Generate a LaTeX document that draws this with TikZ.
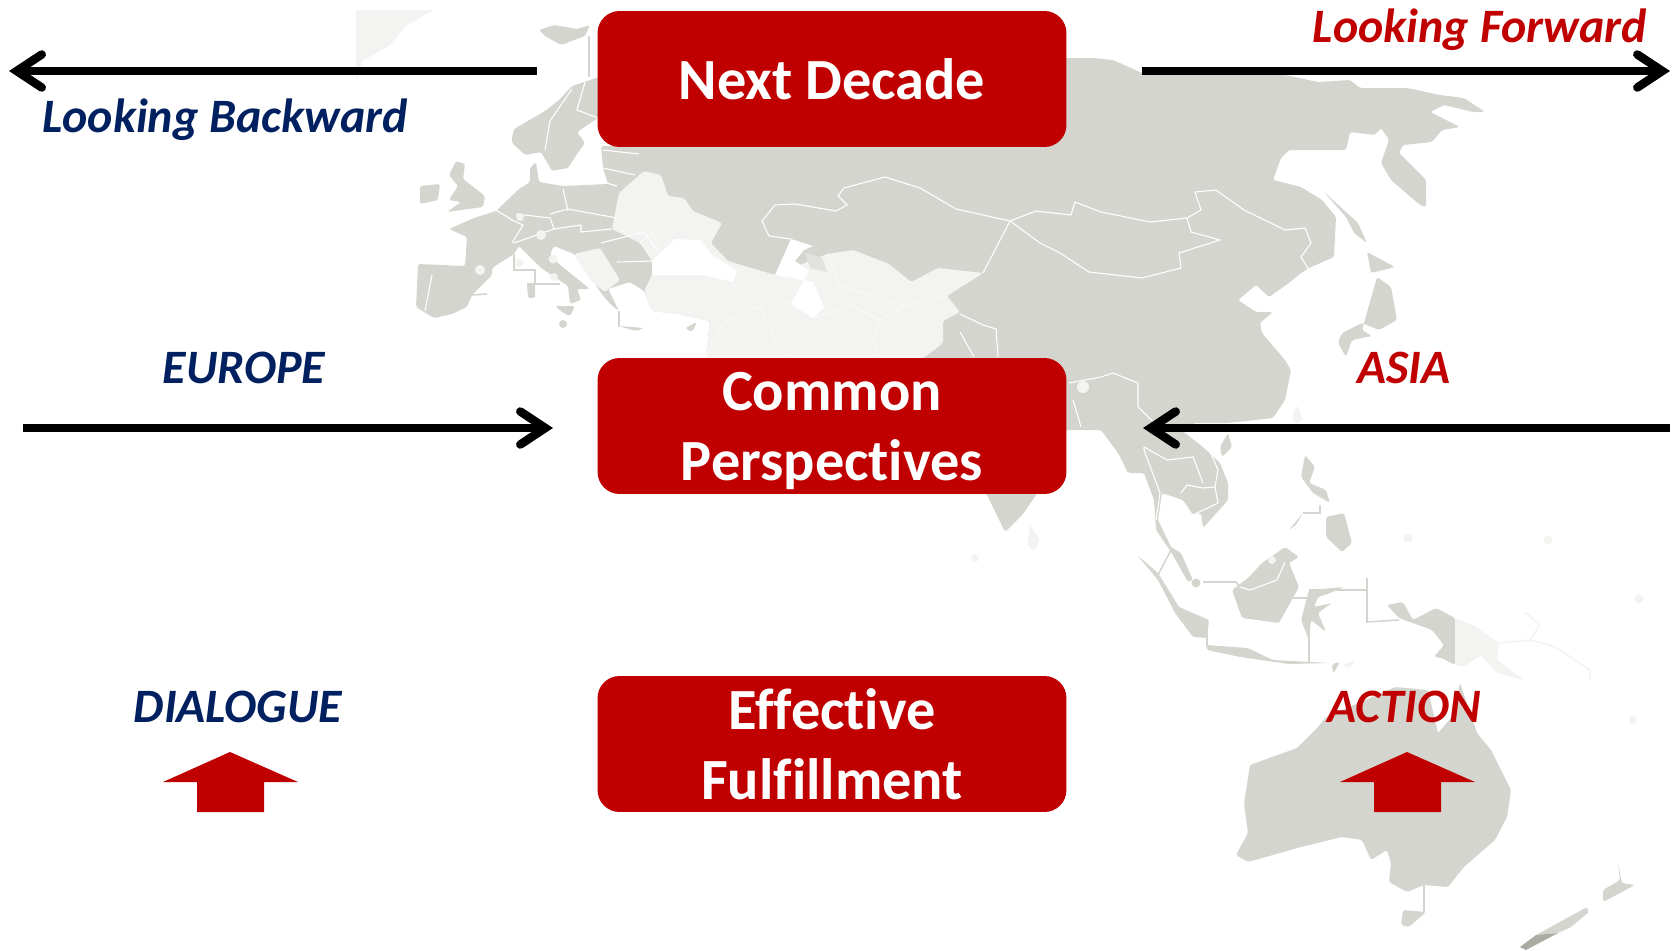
\documentclass[tikz,border=0pt]{standalone}
\usepackage{fontspec}
\setmainfont[Ligatures=NoCommon]{Carlito}
\usetikzlibrary{arrows.meta}
\definecolor{boxred}{HTML}{C00000}
\definecolor{navy}{HTML}{002060}
\definecolor{landgray}{HTML}{D5D5D0}
\definecolor{palegray}{HTML}{F3F3F1}
\definecolor{darkland}{HTML}{ABABA3}
\tikzset{
  land/.style={fill=landgray, rounded corners=1pt},
  pale/.style={fill=palegray, rounded corners=1pt},
  border/.style={draw=white, line width=0.6pt},
  paleborder/.style={draw=white!50!palegray, line width=0.6pt},
  sealine/.style={draw=landgray, line width=0.9pt},
  paleline/.style={draw=palegray, line width=0.9pt},
  titlebox/.style={fill=boxred, rounded corners=0.44cm, minimum width=9.38cm, minimum height=2.72cm,
    inner sep=0pt, text=white, align=center, text depth=0pt, font=\bfseries\fontsize{33.2}{39.8}\selectfont},
  label/.style={font=\bfseries\itshape\fontsize{27.3}{33}\selectfont},
  timearrow/.style={line width=0.17cm, -{Straight Barb[length=0.5cm, width=0.66cm, line width=0.17cm, line cap=round]}},
}
\begin{document}
\begin{tikzpicture}[x=0.02cm, y=-0.02cm]
  \useasboundingbox (0,0) rectangle (1680,950);

  % map
  \fill[pale] (356,10) -- (434,10) -- (407,25) -- (389,46) -- (362,61) -- (356,82) -- cycle;
  \fill[land] (539,30) -- (554,25) -- (577,29) -- (590,25) -- (585,36) -- (561,45) -- (545,36) -- cycle;
  % Eurasia
  \fill[land] (639,146) -- (620,100) -- (1067,58) -- (1093,58) -- (1113,60) -- (1142,73) -- (1285,75)
    -- (1318,82) -- (1350,80) -- (1360,88) -- (1407,88) -- (1440,95) -- (1464,98) -- (1485,112)
    -- (1473,112) -- (1444,105) -- (1430,112) -- (1460,127) -- (1442,130) -- (1432,142) -- (1403,145)
    -- (1399,153) -- (1426,180) -- (1426,207) -- (1420,205) -- (1391,180) -- (1381,163) -- (1389,140)
    -- (1381,128) -- (1375,135) -- (1350,132) -- (1346,150) -- (1289,150) -- (1281,158) -- (1273,180)
    -- (1301,187) -- (1322,200) -- (1336,217) -- (1334,257) -- (1309,268) -- (1301,273) -- (1289,283)
    -- (1269,297) -- (1256,285) -- (1238,300) -- (1256,312) -- (1273,312) -- (1260,323) -- (1262,333)
    -- (1285,360) -- (1291,370) -- (1285,400) -- (1273,418) -- (1228,423) -- (1195,423) -- (1181,430)
    -- (1203,447) -- (1220,463) -- (1228,483) -- (1228,500) -- (1203,528) -- (1201,513) -- (1193,515)
    -- (1183,500) -- (1162,493) -- (1158,520) -- (1171,547) -- (1181,553) -- (1193,580) -- (1188,582)
    -- (1171,552) -- (1156,530) -- (1154,500) -- (1144,473) -- (1128,473) -- (1118,453) -- (1101,430)
    -- (1066,430) -- (1036,495) -- (1023,514) -- (1005,532) -- (987,495) -- (925,420) -- (925,357)
    -- (706,357) -- (710,321) -- (679,314) -- (652,311) -- (644,291) -- (630,282) -- (608,289)
    -- (619,311) -- (610,304) -- (601,293) -- (594,282) -- (574,254) -- (554,246) -- (550,254)
    -- (559,264) -- (590,289) -- (577,289) -- (581,300) -- (570,304) -- (568,286) -- (541,268)
    -- (519,246) -- (514,254) -- (492,268) -- (492,275) -- (472,295) -- (467,307) -- (452,314)
    -- (434,318) -- (416,307) -- (418,264) -- (465,266) -- (467,237) -- (449,229) -- (474,218)
    -- (496,211) -- (519,189) -- (530,182) -- (530,168) -- (536,162) -- (539,182) -- (563,186)
    -- (608,184) -- (603,168) -- (601,146) -- cycle;
  % Scandinavia
  \fill[land] (512,137) -- (514,129) -- (545,111) -- (559,100) -- (572,86) -- (620,70) -- (620,118)
    -- (598,118) -- (577,132) -- (585,143) -- (577,154) -- (568,168) -- (552,171) -- (541,152)
    -- (525,155) -- (512,143) -- cycle;
  % British Isles and the Mediterranean islands
  \fill[land] (456,161) -- (465,164) -- (463,179) -- (485,196) -- (483,207) -- (447,212) -- (461,202)
    -- (449,200) -- (458,186) -- (449,175) -- cycle;
  \fill[land] (420,186) -- (440,184) -- (438,200) -- (420,204) -- cycle;
  \fill[land] (527,284) -- (535,284) -- (535,298) -- (528,298) -- cycle;
  \fill[land] (555,306) -- (575,306) -- (570,316) -- (562,312) -- cycle;
  \fill[land] (619,326) -- (644,328) -- (636,331) -- cycle;
  \fill[land] (685,328) -- (697,322) -- (692,332) -- cycle;
  \fill[land] (563,324) circle (4);
  \draw[sealine] (589,36) -- (589,77);
  \draw[sealine] (514,254) -- (514,270) -- (535,270) -- (535,284);
  \draw[sealine] (472,295) -- (487,294);
  \draw[sealine] (527,284) -- (560,284);
  \draw[sealine] (619,311) -- (619,327);
  % Japan, Sakhalin, Taiwan, Hainan, Sri Lanka
  \fill[land] (1367,252) -- (1395,267) -- (1371,273) -- cycle;
  \fill[land] (1377,277) -- (1391,287) -- (1397,320) -- (1379,330) -- (1362,323) -- (1342,333)
    -- (1338,343) -- (1346,357) -- (1352,340) -- (1372,336) -- (1362,330) -- cycle;
  \fill[land] (1324,192) -- (1358,223) -- (1367,243) -- (1354,233) -- (1346,217) -- cycle;
  \fill[pale] (1297,405) -- (1303,420) -- (1295,424) -- (1292,418) -- cycle;
  \fill[land] (1228,433) -- (1232,447) -- (1222,457) -- (1220,447) -- cycle;
  \fill[pale] (1030,525) -- (1040,540) -- (1034,552) -- (1027,545) -- cycle;
  \fill[pale] (975,558) circle (4);
  % South East Asia
  \fill[land] (1305,455) -- (1315,467) -- (1309,483) -- (1326,490) -- (1330,503) -- (1313,493) -- (1301,477) -- cycle;
  \fill[land] (1326,517) -- (1344,513) -- (1352,543) -- (1342,552) -- (1326,537) -- cycle;
  \fill[land] (1289,530) -- (1303,513) -- (1296,525) -- cycle;
  \fill[land] (1137,555) -- (1158,573) -- (1179,607) -- (1209,620) -- (1207,638) -- (1193,637) -- (1175,613) -- (1158,580) -- cycle;
  \fill[land] (1285,547) -- (1299,557) -- (1289,563) -- (1299,587) -- (1279,623) -- (1242,618) -- (1232,590) -- (1248,578) -- (1262,563) -- cycle;
  \fill[land] (1309,590) -- (1344,587) -- (1330,593) -- (1318,597) -- (1314,607) -- (1332,603) -- (1318,613) -- (1326,632) -- (1311,620) -- (1309,640) -- (1301,620) -- cycle;
  \fill[land] (1207,645) -- (1248,648) -- (1273,660) -- (1330,663) -- (1289,664) -- (1240,657) -- (1207,650) -- cycle;
  \fill[land] (1332,664) -- (1340,662) -- (1333,674) -- cycle;
  \fill[pale] (1342,665) -- (1356,660) -- (1350,668) -- cycle;
  \fill[land] (1387,605) -- (1403,602) -- (1413,620) -- (1436,608) -- (1455,618) -- (1455,665) -- (1442,658) -- (1434,657) -- (1444,645) -- (1432,630) -- (1399,618) -- cycle;
  \fill[pale] (1455,618) -- (1473,625) -- (1499,643) -- (1497,660) -- (1524,680) -- (1497,673) -- (1481,655) -- (1464,667) -- (1455,665) -- cycle;
  \draw[sealine] (1158,575) -- (1171,550);
  \draw[sealine] (1203,582) -- (1236,582) -- (1242,590);
  \draw[sealine] (1207,630) -- (1207,647);
  \draw[sealine] (1291,598) -- (1307,598);
  \draw[sealine] (1309,630) -- (1309,663);
  \draw[sealine] (1309,590) -- (1367,590);
  \draw[sealine] (1367,578) -- (1367,622) -- (1399,620);
  \draw[sealine] (1303,513) -- (1320,513) -- (1320,505);
  \draw[paleline] (1499,643) -- (1530,640) -- (1540,625) -- (1525,612);
  \draw[paleline] (1530,640) -- (1550,645) -- (1560,650) -- (1590,670) -- (1590,680);
  \fill[pale] (1408,538) circle (4.5);
  \fill[pale] (1548,540) circle (4.5);
  \fill[pale] (1639,599) circle (4.5);
  \fill[pale] (1633,720) circle (4.5);
  % Australia, Tasmania, New Zealand
  \fill[land] (1460,683) -- (1477,733) -- (1491,750) -- (1511,790) -- (1507,817) -- (1495,840) -- (1464,867)
    -- (1448,887) -- (1424,885) -- (1407,892) -- (1389,882) -- (1391,863) -- (1387,850) -- (1371,860)
    -- (1362,840) -- (1342,837) -- (1301,847) -- (1248,862) -- (1236,855) -- (1248,833) -- (1244,803)
    -- (1250,765) -- (1297,748) -- (1318,727) -- (1326,717) -- (1395,687) -- (1428,690) -- (1438,733)
    -- (1452,717) -- cycle;
  \fill[land] (1403,910) -- (1426,912) -- (1409,927) -- (1401,925) -- cycle;
  \draw[sealine] (1424,885) -- (1424,912);
  \fill[land] (1618,863) -- (1622,883) -- (1635,885) -- (1603,902) -- (1603,890) -- (1620,880) -- cycle;
  \fill[land] (1587,907) -- (1589,912) -- (1571,927) -- (1558,933) -- (1536,935) -- cycle;
  \fill[darkland] (1558,933) -- (1526,950) -- (1520,947) -- (1536,935) -- cycle;

  % middle east, black sea and caspian
  \fill[pale] (619,193) -- (644,171) -- (661,175) -- (668,196) -- (684,198) -- (693,211) -- (722,223)
    -- (711,243) -- (728,261) -- (775,275) -- (827,254) -- (853,250) -- (889,264) -- (911,282)
    -- (938,268) -- (983,273) -- (947,296) -- (960,312) -- (943,321) -- (943,343) -- (925,357)
    -- (706,357) -- (710,321) -- (679,314) -- (652,311) -- (644,291) -- (652,275) -- (652,261)
    -- (640,243) -- (612,229) -- cycle;
  \fill[pale] (574,254) -- (600,248) -- (620,280) -- (605,292) -- (590,280) -- cycle;
  \fill[white] (675,239) -- (652,261) -- (652,275) -- (702,275) -- (733,282) -- (737,271) -- (711,254) -- (700,240) -- cycle;
  \fill[white] (775,275) -- (791,239) -- (813,246) -- (804,250) -- (795,261) -- (809,271) -- (791,304)
    -- (813,318) -- (824,307) -- (813,282) -- cycle;
  \fill[landgray!70!white] (805,252) -- (822,258) -- (827,272) -- (810,268) -- cycle;
  % borders
  \draw[border] (762,221) -- (775,205) -- (795,204) -- (836,211) -- (847,205) -- (838,196) -- (844,188)
    -- (885,177) -- (920,188) -- (956,209) -- (1010,221) -- (1036,211) -- (1071,215) -- (1075,202)
    -- (1101,212) -- (1150,222) -- (1187,218) -- (1201,210) -- (1195,192) -- (1216,190) -- (1244,210)
    -- (1285,230) -- (1305,228) -- (1311,243) -- (1301,257) -- (1309,270);
  \draw[border] (1010,221) -- (1040,243) -- (1060,253) -- (1089,272) -- (1142,278) -- (1181,268)
    -- (1179,253) -- (1220,240) -- (1191,232) -- (1187,218);
  \draw[border] (762,221) -- (769,236) -- (791,239);
  \draw[border] (983,273) -- (1010,221);
  \draw[border] (494,209) -- (514,221) -- (523,225) -- (512,243);
  \draw[border] (563,189) -- (568,211);
  \draw[border] (516,214) -- (550,218) -- (554,229) -- (514,243);
  \draw[border] (550,214) -- (568,209) -- (617,218);
  \draw[border] (554,229) -- (581,225) -- (581,232) -- (612,229);
  \draw[border] (601,243) -- (644,232) -- (657,250);
  \draw[border] (617,262) -- (652,261);
  \draw[border] (432,275) -- (425,311);
  \draw[border] (550,121) -- (572,89);
  \draw[border] (550,121) -- (545,150);
  \draw[border] (585,82) -- (577,110) -- (598,118);
  \draw[border] (603,150) -- (639,154);
  \draw[border] (603,168) -- (635,175);
  \draw[border] (603,182) -- (617,186);
  \draw[border] (960,314) -- (983,325) -- (996,329) -- (998,357);
  \draw[border] (960,332) -- (974,357);
  \draw[border] (1069,383) -- (1101,377) -- (1113,373) -- (1138,383) -- (1138,407) -- (1162,430);
  \draw[border] (1073,400) -- (1081,427);
  \draw[border] (1144,447) -- (1144,450) -- (1160,493) -- (1156,520);
  \draw[border] (1144,447) -- (1167,460) -- (1193,457) -- (1203,483);
  \draw[border] (1181,493) -- (1187,485) -- (1203,488) -- (1215,487) -- (1218,503) -- (1193,515);
  \draw[border] (1203,435) -- (1218,470) -- (1215,487);
  \draw[border] (1240,587) -- (1250,590) -- (1277,580) -- (1285,562);
  \draw[paleborder] (640,243) -- (652,232) -- (660,250);
  \draw[paleborder] (706,357) -- (725,321) -- (775,300) -- (791,304);
  \draw[paleborder] (760,305) -- (775,340) -- (790,357);
  \draw[paleborder] (813,318) -- (850,305) -- (880,320) -- (905,305) -- (947,296);
  \draw[paleborder] (880,320) -- (873,340) -- (880,357);
  \draw[paleborder] (827,254) -- (840,285) -- (880,300) -- (905,305);
  \fill[palegray] (1083,387) circle (6);
  \fill[palegray] (1272,560) circle (4);
  \fill[landgray] (1196,583) circle (4.5);
  \fill[palegray] (541,235) circle (5);
  \fill[palegray] (520,217) circle (4);
  \fill[palegray] (480,270) circle (5);
  \fill[palegray] (553,259) circle (4.5);
  \fill[palegray] (554,277) circle (4);
  \fill[palegray] (519,263) circle (4.5);

  \coordinate (backstart) at (537,71);
  \coordinate (backend) at (9,71);
  \coordinate (forwardstart) at (1142,71);
  \coordinate (forwardend) at (1670,71);
  \coordinate (europestart) at (23,428);
  \coordinate (europeend) at (553,428);
  \coordinate (asiastart) at (1670,428);
  \coordinate (asiaend) at (1143,428);

  \begin{scope}[timearrow]
    \draw (backstart) to (backend);
    \draw (forwardstart) to (forwardend);
    \draw (europestart) to (europeend);
    \draw (asiastart) to (asiaend);
  \end{scope}

  \node[titlebox] (decade) at (832,79) {Next Decade};
  \node[titlebox] (common) at (832,426) {Common\\Perspectives};
  \node[titlebox] (effective) at (832,744) {Effective\\Fulfillment};

  \node[label, text=navy] (backward) at (225,120) {Looking Backward};
  \node[label, text=boxred] (forward) at (1480,30) {Looking Forward};
  \node[label, text=navy] (europe) at (244,368) {EUROPE};
  \node[label, text=boxred] (asia) at (1404,368) {ASIA};
  \node[label, text=navy] (dialogue) at (238,707) {DIALOGUE};
  \node[label, text=boxred] (action) at (1404,707) {ACTION};

  \foreach \x in {230,1407} {
    \fill[boxred] (\x,752) -- (\x+68,782) -- (\x+34,782) -- (\x+34,812) -- (\x-33,812) -- (\x-33,782) -- (\x-67,782) -- cycle;
  }
\end{tikzpicture}
\end{document}
